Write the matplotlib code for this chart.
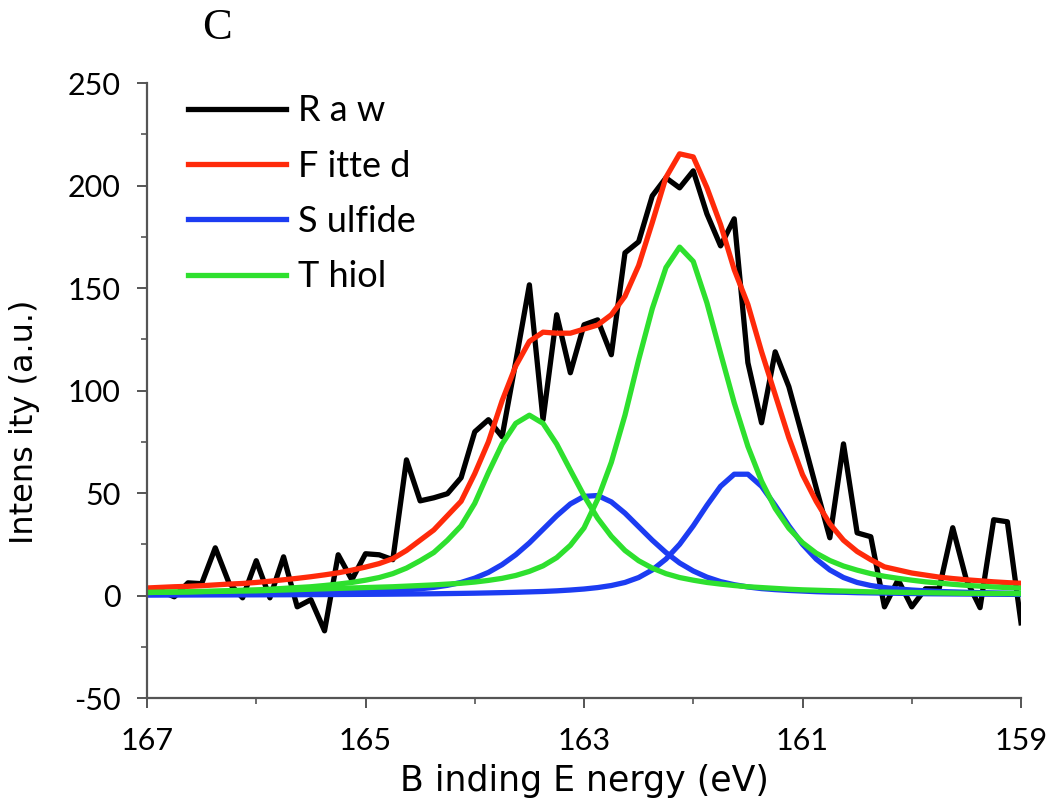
import numpy as np
import matplotlib
matplotlib.use("Agg")
from matplotlib import pyplot as plt
from matplotlib.ticker import MultipleLocator

# binding energy grid (eV), 0.125 eV step from 167 down to 159
energy = np.linspace(167, 159, 65)

# raw counts
raw = [3.3, 2.3, -0.6, 6.2, 5.8, 23.3, 6.2, -1.1, 17.0, -1.1,
       18.9, -5.5, -2.0, -17.2, 19.9, 7.7, 20.4, 19.9, 17.5, 66.2,
       46.2, 47.7, 49.7, 57.5, 79.9, 85.8, 77.5, 114.0, 151.6, 85.8,
       137.0, 108.7, 132.1, 134.5, 117.5, 167.2, 172.6, 195.0, 203.8, 198.9,
       207.2, 186.2, 170.6, 183.8, 113.6, 84.3, 118.9, 101.9, 77.5, 52.6,
       28.2, 74.0, 30.6, 28.7, -5.5, 7.7, -5.5, 3.3, 3.3, 33.1,
       7.7, -5.9, 37.0, 36.0, -13.3]

fitted = [3.7, 4.0, 4.3, 4.5, 4.8, 5.2, 5.6, 5.9, 6.4, 7.0,
          7.7, 8.4, 9.2, 10.1, 11.1, 12.4, 13.9, 15.6, 18.0, 22.0,
          27.0, 32.0, 39.0, 46.0, 59.5, 75.0, 95.0, 112.0, 124.0, 128.5,
          128.0, 128.0, 130.0, 132.0, 137.0, 146.0, 161.0, 182.0, 204.0, 215.5,
          214.0, 199.0, 181.0, 159.0, 142.0, 119.0, 98.0, 77.0, 59.0, 46.0,
          35.0, 27.0, 21.5, 17.5, 14.0, 12.5, 11.0, 10.0, 9.0, 8.3,
          7.7, 7.2, 6.7, 6.3, 6.0]

sulfide_1 = [0.5, 0.55, 0.6, 0.6, 0.65, 0.7, 0.75, 0.8, 0.9, 1.0,
             1.05, 1.15, 1.3, 1.4, 1.5, 1.7, 1.9, 2.1, 2.4, 2.8,
             3.3, 4.0, 5.0, 6.4, 8.5, 11.3, 15.1, 19.9, 25.7, 32.3,
             38.9, 44.7, 48.4, 48.8, 45.7, 40.2, 33.6, 27.0, 21.0, 15.9,
             12.0, 9.0, 6.8, 5.3, 4.2, 3.4, 2.9, 2.5, 2.2, 1.9,
             1.7, 1.6, 1.4, 1.3, 1.2, 1.1, 1.0, 0.9, 0.85, 0.8,
             0.75, 0.7, 0.65, 0.6, 0.55]

sulfide_2 = [0.24, 0.25, 0.26, 0.28, 0.29, 0.31, 0.32, 0.34, 0.36, 0.38,
             0.4, 0.43, 0.46, 0.49, 0.52, 0.56, 0.6, 0.64, 0.69, 0.75,
             0.81, 0.88, 0.97, 1.06, 1.16, 1.29, 1.43, 1.6, 1.8, 2.0,
             2.3, 2.7, 3.2, 3.9, 4.9, 6.4, 8.8, 12.5, 17.8, 25.0,
             34.0, 44.0, 53.3, 59.2, 59.2, 53.3, 44.0, 34.0, 25.0, 17.8,
             12.5, 8.8, 6.4, 4.9, 3.9, 3.2, 2.7, 2.3, 2.0, 1.8,
             1.6, 1.43, 1.29, 1.16, 1.06]

thiol_1 = [1.5, 1.6, 1.7, 1.8, 2.0, 2.2, 2.4, 2.6, 2.8, 3.1,
           3.5, 3.9, 4.3, 4.9, 5.6, 6.4, 7.5, 8.8, 10.7, 13.4,
           17.0, 21.0, 27.0, 34.0, 45.0, 60.0, 73.9, 84.0, 88.0, 84.0,
           73.9, 61.2, 48.7, 37.7, 28.9, 22.0, 17.0, 13.4, 10.7, 8.8,
           7.5, 6.4, 5.6, 4.9, 4.3, 3.9, 3.5, 3.1, 2.8, 2.6,
           2.4, 2.2, 2.0, 1.8, 1.7, 1.6, 1.5, 1.4, 1.3, 1.2,
           1.1, 1.1, 1.0, 1.0, 0.9]

thiol_2 = [1.5, 1.6, 1.7, 1.8, 1.9, 2.0, 2.1, 2.2, 2.3, 2.5,
           2.7, 2.9, 3.1, 3.3, 3.5, 3.7, 3.9, 4.1, 4.3, 4.6,
           4.9, 5.2, 5.6, 6.0, 6.6, 7.4, 8.4, 9.8, 11.8, 14.5,
           18.5, 24.5, 33.0, 47.0, 65.0, 88.0, 115.0, 140.0, 160.0, 170.0,
           163.0, 142.8, 118.2, 94.0, 72.8, 55.8, 42.5, 32.8, 25.8, 20.7,
           17.1, 14.4, 12.4, 10.7, 9.4, 8.4, 7.5, 6.7, 6.1, 5.5,
           5.0, 4.6, 4.2, 3.9, 3.6]

x_ticks = [167, 165, 163, 161, 159]

plt.rcParams['font.family'] = ['Lato', 'DejaVu Sans']
plt.rcParams['axes.unicode_minus'] = False

fig = plt.figure(figsize=(10.5, 8.07), dpi=100)
ax = fig.add_axes([0.14, 0.135, 0.8324, 0.762])

lw = 3.8
ax.plot(energy, raw, color='black', linewidth=lw, label='R a w')
ax.plot(energy, fitted, color='#ff2a0a', linewidth=lw, label='F itte d')
ax.plot(energy, sulfide_1, color='#1c3cf2', linewidth=lw, label='S ulfide')
ax.plot(energy, sulfide_2, color='#1c3cf2', linewidth=lw)
ax.plot(energy, thiol_1, color='#2ee02e', linewidth=lw, label='T hiol')
ax.plot(energy, thiol_2, color='#2ee02e', linewidth=lw)

ax.set_xlim(167, 159)
ax.set_ylim(-50, 250)
ax.set_xticks(x_ticks)
ax.xaxis.set_minor_locator(MultipleLocator(1))
ax.yaxis.set_major_locator(MultipleLocator(50))
ax.yaxis.set_minor_locator(MultipleLocator(25))

for side in ['top', 'right']:
    ax.spines[side].set_visible(False)
for side in ['left', 'bottom']:
    ax.spines[side].set_color('#555555')
    ax.spines[side].set_linewidth(1.6)

ax.tick_params(which='major', direction='out', length=7, width=1.4,
               color='#555555', labelsize=22)
ax.tick_params(which='minor', direction='out', length=4, width=1.2,
               color='#555555')
ax.tick_params(axis='x', which='major', pad=14)
ax.tick_params(axis='y', which='major', pad=12)

ax.set_xlabel('B inding E nergy (eV)', family='DejaVu Sans', fontsize=25,
              labelpad=6)
ax.set_ylabel('Intens ity (a.u.)', family='DejaVu Sans', fontsize=23)
ax.yaxis.set_label_coords(-0.122, 0.45)

ax.legend(loc='upper left', bbox_to_anchor=(0.047, 0.982), frameon=False,
          fontsize=26, handlelength=2.7, handletextpad=0.35,
          labelspacing=0.62, borderpad=0, borderaxespad=0)

fig.text(0.207, 0.965, 'C', family='Liberation Serif', fontsize=32,
         ha='center', va='center')

fig.savefig('out.png', dpi=100)
